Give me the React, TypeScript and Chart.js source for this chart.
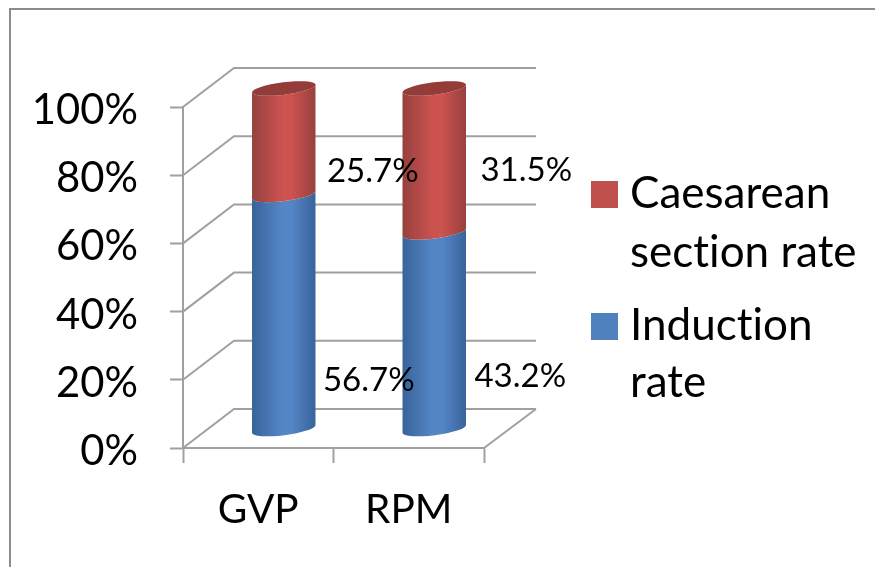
import React, { useEffect, useRef } from "react";
import { Chart, registerables } from "chart.js";

Chart.register(...registerables);

const categories = ["GVP", "RPM"];
const inductionRate = [56.7, 43.2];
const caesareanRate = [25.7, 31.5];
const yTicks = [0, 20, 40, 60, 80, 100];
const inductionLegend = ["Induction", "rate"];
const caesareanLegend = ["Caesarean", "section rate"];

const FONT = "Lato, Carlito, sans-serif";
const DEPTH_X = 51;
const DEPTH_Y = 39;
const CYL_DX = 25.5;
const CYL_DY = -18.5;
const TILT = -0.125;
const RY = 6.2;
const GRID = "#a0a0a0";

const share = (a: number, b: number) => (a / (a + b)) * 100;
const inductionShare = inductionRate.map((v, i) => share(v, caesareanRate[i]));
const caesareanShare = caesareanRate.map((v, i) => share(v, inductionRate[i]));

function drawSegment(
  ctx: CanvasRenderingContext2D,
  cx: number,
  top: number,
  bottom: number,
  rx: number,
  stops: [string, string]
) {
  const g = ctx.createLinearGradient(cx - rx, 0, cx + rx, 0);
  g.addColorStop(0, stops[0]);
  g.addColorStop(0.48, stops[1]);
  g.addColorStop(0.62, stops[1]);
  g.addColorStop(1, stops[0]);
  ctx.fillStyle = g;
  ctx.beginPath();
  ctx.ellipse(cx, top, rx, RY, TILT, Math.PI, 0, true);
  ctx.ellipse(cx, bottom, rx, RY, TILT, 0, Math.PI, false);
  ctx.closePath();
  ctx.fill();
}

const wallsPlugin = {
  id: "walls",
  beforeDraw(chart: any) {
    const y = chart.scales.y;
    const items = y.getLabelItems(chart.chartArea);
    if (!y.$shifted || y.$shifted !== items) {
      items.forEach((it: any) => {
        it.textOffset += 3.5;
      });
      y.$shifted = items;
    }
  },
  beforeDatasetsDraw(chart: any) {
    const { ctx, chartArea: a, scales } = chart;
    const y = scales.y;
    ctx.save();
    ctx.strokeStyle = GRID;
    ctx.lineWidth = 2;
    yTicks.forEach((t) => {
      const py = y.getPixelForValue(t);
      ctx.beginPath();
      ctx.moveTo(a.left, py);
      ctx.lineTo(a.left + DEPTH_X, py - DEPTH_Y);
      ctx.lineTo(a.right + DEPTH_X + 1, py - DEPTH_Y);
      ctx.stroke();
    });
    ctx.beginPath();
    ctx.moveTo(a.right, a.bottom);
    ctx.lineTo(a.right + DEPTH_X + 1, a.bottom - DEPTH_Y);
    ctx.stroke();
    ctx.restore();
  },
};

const labelOffsets = [
  [
    { dx: 85, dy: -68 },
    { dx: 86, dy: -72 },
  ],
  [
    { dx: 89, dy: 30 },
    { dx: 92, dy: 10 },
  ],
];

const cylinderPlugin = {
  id: "cylinders",
  afterDatasetsDraw(chart: any) {
    const { ctx } = chart;
    const blue = chart.getDatasetMeta(0).data;
    const red = chart.getDatasetMeta(1).data;
    ctx.save();
    blue.forEach((el: any, i: number) => {
      const rx = el.width / 2;
      const cx = el.x + CYL_DX;
      const r = red[i];
      drawSegment(ctx, cx, el.y + CYL_DY, el.base + CYL_DY, rx, ["#38639a", "#5486c6"]);
      drawSegment(ctx, cx, r.y + CYL_DY, r.base + CYL_DY, rx, ["#96403d", "#cc5350"]);
      ctx.fillStyle = "#943c3a";
      ctx.beginPath();
      ctx.ellipse(cx, r.y + CYL_DY, rx, RY, TILT, 0, Math.PI * 2);
      ctx.fill();
    });
    ctx.fillStyle = "#000";
    ctx.font = `33px ${FONT}`;
    ctx.textAlign = "center";
    ctx.textBaseline = "middle";
    [blue, red].forEach((els: any[], d: number) => {
      const vals = d === 0 ? inductionRate : caesareanRate;
      els.forEach((el: any, i: number) => {
        const off = labelOffsets[d][i];
        const anchor = d === 0 ? chart.scales.y.getPixelForValue(0) : (el.y + el.base) / 2 + CYL_DY;
        ctx.fillText(`${vals[i].toFixed(1)}%`, el.x + CYL_DX + off.dx, anchor + off.dy);
      });
    });
    ctx.restore();
  },
};

const legendPlugin = {
  id: "sideLegend",
  afterDraw(chart: any) {
    const { ctx } = chart;
    ctx.save();
    const entries = [
      { color: "#c0504d", lines: caesareanLegend, swatch: 181, bases: [208, 267] },
      { color: "#4f81bd", lines: inductionLegend, swatch: 313, bases: [340, 397] },
    ];
    ctx.font = `44px ${FONT}`;
    (ctx as any).textRendering = "optimizeSpeed";
    ctx.textAlign = "left";
    ctx.textBaseline = "alphabetic";
    entries.forEach((e) => {
      ctx.fillStyle = e.color;
      ctx.fillRect(591, e.swatch, 27, 27);
      ctx.fillStyle = "#000";
      e.lines.forEach((l, i) => ctx.fillText(l, 630, e.bases[i]));
    });
    ctx.strokeStyle = "#8c8c8c";
    ctx.lineWidth = 2;
    ctx.beginPath();
    ctx.moveTo(10, 567);
    ctx.lineTo(10, 9);
    ctx.lineTo(875, 9);
    ctx.stroke();
    ctx.restore();
  },
};

export default function App() {
  const ref = useRef<HTMLCanvasElement>(null);
  useEffect(() => {
    const chart = new Chart(ref.current as HTMLCanvasElement, {
      type: "bar",
      data: {
        labels: categories,
        datasets: [
          {
            label: inductionLegend.join(" "),
            data: inductionShare,
            backgroundColor: "rgba(0,0,0,0)",
            categoryPercentage: 1,
            barPercentage: 0.425,
          },
          {
            label: caesareanLegend.join(" "),
            data: caesareanShare,
            backgroundColor: "rgba(0,0,0,0)",
            categoryPercentage: 1,
            barPercentage: 0.425,
          },
        ],
      },
      options: {
        responsive: false,
        animation: false,
        layout: { padding: { top: 107, right: 391, left: 0, bottom: 0 } },
        plugins: { legend: { display: false }, tooltip: { enabled: false } },
        scales: {
          x: {
            stacked: true,
            afterFit: (s: any) => {
              s.height = 119;
            },
            border: { color: GRID, width: 2 },
            grid: { offset: true, drawOnChartArea: false, drawTicks: true, tickLength: 15, tickWidth: 2, color: GRID },
            ticks: { color: "#000", font: { family: FONT, size: 40.5 }, padding: 23, maxRotation: 0 },
          },
          y: {
            stacked: true,
            min: 0,
            max: 100,
            afterFit: (s: any) => {
              s.width = 183;
            },
            afterBuildTicks: (s: any) => {
              s.ticks = yTicks.map((value) => ({ value }));
            },
            border: { color: GRID, width: 2 },
            grid: { drawOnChartArea: false, tickLength: 13, tickWidth: 2, color: GRID },
            ticks: {
              color: "#000",
              font: { family: FONT, size: 41.8 },
              padding: 32,
              callback: (v: any) => `${v}%`,
            },
          },
        },
      },
      plugins: [wallsPlugin, cylinderPlugin, legendPlugin],
    } as any);
    return () => chart.destroy();
  }, []);
  return (
    <div style={{ position: "fixed", left: 0, top: 0, width: 875, height: 567, background: "#fff" }}>
      <canvas ref={ref} width={875} height={567} style={{ display: "block" }} />
    </div>
  );
}
